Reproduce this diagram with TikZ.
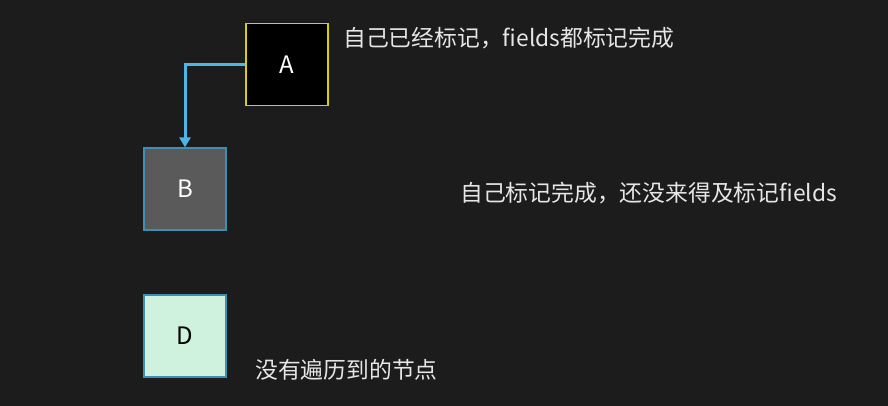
\documentclass[tikz,border=0pt]{standalone}
\usepackage{fontspec}
\setmainfont{Noto Sans CJK SC}
\newfontfamily\cjk{Noto Sans CJK SC}
\usetikzlibrary{arrows.meta}
\definecolor{board}{HTML}{1C1C1C}
\definecolor{linkblue}{HTML}{4DB6E6}
\definecolor{boxblue}{HTML}{3D8FB5}
\definecolor{boxyellow}{HTML}{D8D000}
\definecolor{graybox}{HTML}{5A5A5A}
\definecolor{mint}{HTML}{CFF2DE}
\definecolor{labeltext}{HTML}{E6E6E6}
\tikzset{
  nodebox/.style={draw, line width=1.2pt, minimum width=82pt, minimum height=82pt, inner sep=0pt, font=\cjk\fontsize{24}{24}\selectfont},
  note/.style={anchor=west, inner sep=0pt, text=labeltext, font=\cjk\fontsize{22.8}{23}\selectfont},
  link/.style={draw=linkblue, line width=3pt, -{Triangle[length=10pt,width=11pt]}}
}
\begin{document}
\begin{tikzpicture}[x=1pt,y=-1pt]
\fill[board] (0,0) rectangle (888,406);
\useasboundingbox (0,0) rectangle (888,406);
\node[nodebox, draw=boxyellow, fill=black, text=white] (A) at (287,64.5) {A};
\node[nodebox, draw=boxblue, fill=graybox, text=white] (B) at (185,189) {B};
\node[nodebox, draw=boxblue, fill=mint, text=black] (D) at (185,336) {D};
\draw[link] (A.west) -| (B.north);
\node[note] (tA) at (343,38) {自己已经标记，fields都标记完成};
\node[note] (tB) at (460,193) {自己标记完成，还没来得及标记fields};
\node[note] (tD) at (255,370) {没有遍历到的节点};
\end{tikzpicture}
\end{document}
